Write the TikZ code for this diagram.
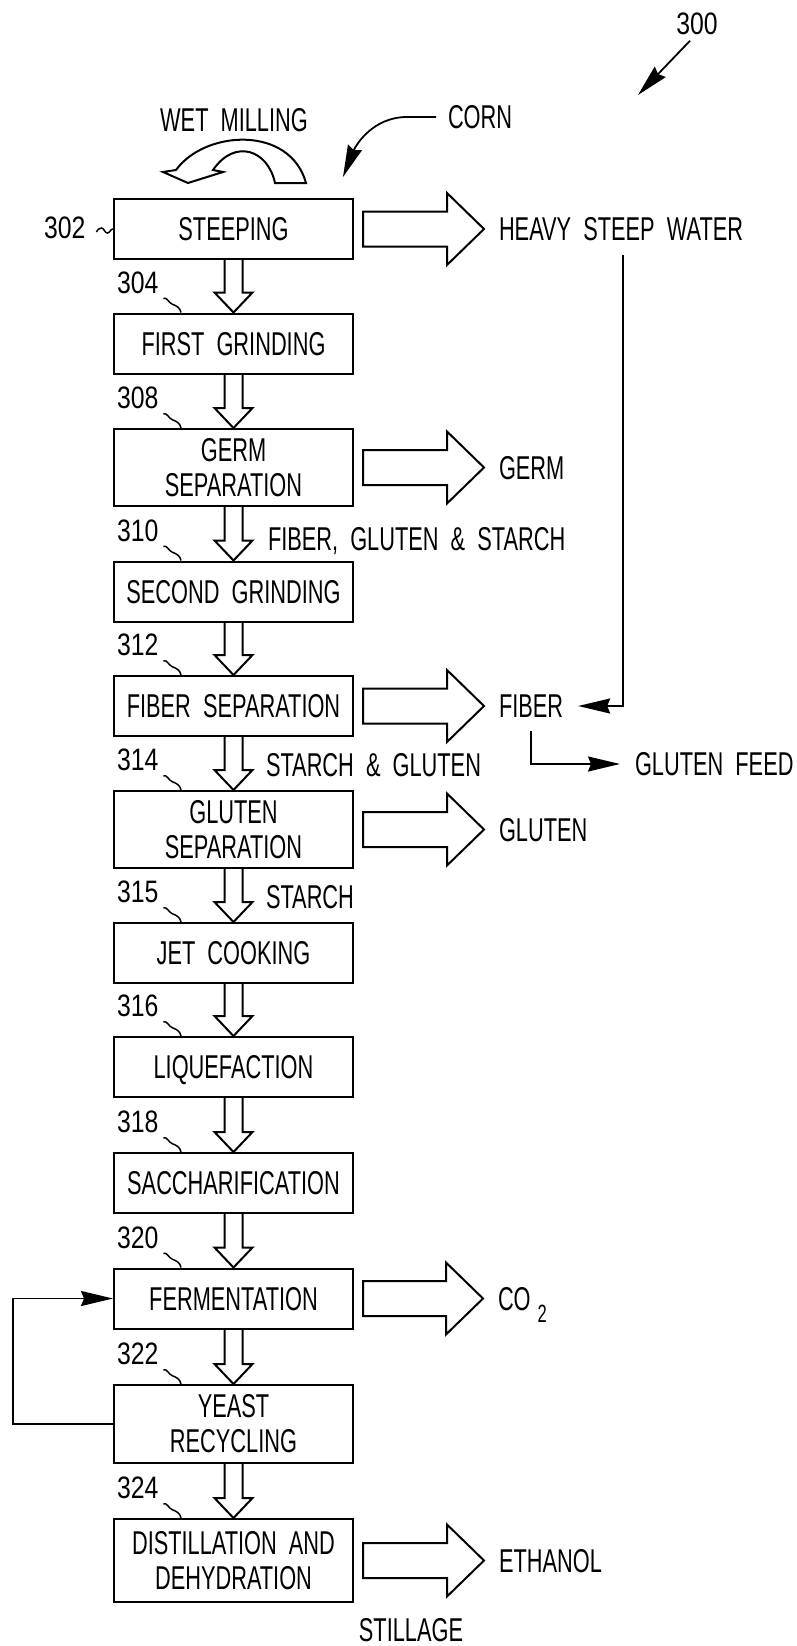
\documentclass[tikz,border=0pt]{standalone}
\usepackage{fontspec}
\setmainfont{Liberation Sans}[FakeStretch=0.66,WordSpace=2]
\newfontfamily\refnum{Liberation Sans}[FakeStretch=0.8]
\usetikzlibrary{calc,arrows.meta}

\begin{document}
\begin{tikzpicture}[x=1pt, y=-1pt, line width=2pt, font=\fontsize{33}{35}\selectfont]

      \useasboundingbox (0,0) rectangle (796,1646);
      \tikzset{boxbase/.style={draw, minimum width=239pt, inner sep=0pt, align=center},
               box/.style={boxbase, minimum height=60pt, text height=23.5pt, text depth=0pt},
               tall/.style={boxbase, minimum height=78pt},
               txt/.style={inner sep=0pt, text height=23.5pt, text depth=0pt},
               product/.style={txt, anchor=west},
               refno/.style={txt, anchor=west, font=\refnum\fontsize{31}{31}\selectfont},
               squig/.style={line width=1.5pt},
               thinarrow/.style={line width=1.8pt, -{Stealth[length=32pt,width=15pt,inset=3pt]}},
               blockdown/.style={to path={($(\tikztostart.south)+(-9pt,0)$) -- ($(\tikztotarget.north)+(-9pt,20pt)$)
                   -- ($(\tikztotarget.north)+(-19pt,20pt)$) -- (\tikztotarget.north) -- ($(\tikztotarget.north)+(19pt,20pt)$)
                   -- ($(\tikztotarget.north)+(9pt,20pt)$) -- ($(\tikztostart.south)+(9pt,0)$)}},
               blockright/.style={to path={($(\tikztostart.east)+(9pt,17.5pt)$) -- ($(\tikztostart.east -| \tikztotarget.west)+(-51pt,17.5pt)$)
                   -- ($(\tikztostart.east -| \tikztotarget.west)+(-51pt,36pt)$) -- ($(\tikztostart.east -| \tikztotarget.west)+(-14pt,0)$)
                   -- ($(\tikztostart.east -| \tikztotarget.west)+(-51pt,-36pt)$) -- ($(\tikztostart.east -| \tikztotarget.west)+(-51pt,-17.5pt)$)
                   -- ($(\tikztostart.east)+(9pt,-17.5pt)$) -- cycle}}}
%% Process steps
      	\node[box] (steep) at (233.5,229) {STEEPING};
      	\node[box] (grind1) at (233.5,343.5) {FIRST GRINDING};
      	\node[tall, minimum height=77pt] (germsep) at (233.5,467.5) {GERM\\SEPARATION};
      	\node[box] (grind2) at (233.5,591.5) {SECOND GRINDING};
      	\node[box] (fibersep) at (233.5,706) {FIBER SEPARATION};
      	\node[tall, minimum height=77pt] (glutensep) at (233.5,829.5) {GLUTEN\\SEPARATION};
      	\node[box] (jet) at (233.5,953) {JET COOKING};
      	\node[box] (liq) at (233.5,1067) {LIQUEFACTION};
      	\node[box] (sacc) at (233.5,1183) {SACCHARIFICATION};
      	\node[box] (ferm) at (233.5,1298.5) {FERMENTATION};
      	\node[tall] (yeast) at (233.5,1424) {YEAST\\RECYCLING};
      	\node[tall, minimum height=83pt] (distil) at (233.5,1560.5) {DISTILLATION AND\\DEHYDRATION};
%% Products and streams
      	\node[product] (heavy) at (498,229) {HEAVY STEEP WATER};
      	\node[product] (germ) at (498,467.5) {GERM};
      	\node[product] (fiber) at (498,706) {FIBER};
      	\node[product] (feed) at (634,764) {GLUTEN FEED};
      	\node[product] (gluten) at (498,829.5) {GLUTEN};
      	\node[product] (co2) at (497,1298.5) {CO\hspace{7pt}\raisebox{-12pt}{\fontsize{25}{25}\selectfont 2}};
      	\node[product] (ethanol) at (498,1560.5) {ETHANOL};
      	\node[txt] (stillage) at (411,1630) {STILLAGE};
      	\node[txt, anchor=west] (fgs) at (267,539) {FIBER, GLUTEN \& STARCH};
      	\node[txt, anchor=west] (sg) at (265,765) {STARCH \& GLUTEN};
      	\node[txt, anchor=west] (st) at (265,897) {STARCH};
      	\node[txt] (wet) at (234,120) {WET MILLING};
      	\node[txt, anchor=west] (corn) at (447,117) {CORN};
      	\node[refno, anchor=center] (fig) at (697,23) {300};
      	\coordinate (corntip) at (343,177);
      	\coordinate (figtip) at (638,95);
%% Reference numerals
      	\node[refno] (r302) at (43,227) {302};
      	\node[refno] (r304) at ($(grind1.north west)+(3pt,31pt)$) {304};
      	\node[refno] (r308) at ($(germsep.north west)+(3pt,31pt)$) {308};
      	\node[refno] (r310) at ($(grind2.north west)+(3pt,31pt)$) {310};
      	\node[refno] (r312) at ($(fibersep.north west)+(3pt,31pt)$) {312};
      	\node[refno] (r314) at ($(glutensep.north west)+(3pt,31pt)$) {314};
      	\node[refno] (r315) at ($(jet.north west)+(3pt,31pt)$) {315};
      	\node[refno] (r316) at ($(liq.north west)+(3pt,31pt)$) {316};
      	\node[refno] (r318) at ($(sacc.north west)+(3pt,31pt)$) {318};
      	\node[refno] (r320) at ($(ferm.north west)+(3pt,31pt)$) {320};
      	\node[refno] (r322) at ($(yeast.north west)+(3pt,31pt)$) {322};
      	\node[refno] (r324) at ($(distil.north west)+(3pt,31pt)$) {324};
%Leaders
		\draw[squig] ($(r302.east)+(10pt,-5pt)$) to[out=60,in=180] ++(5pt,4pt) to[out=0,in=180] ++(6pt,-5pt) to[out=0,in=180] (steep.west);
		\draw[squig] ($(r304.south east)+(4pt,-4pt)$) to[out=15,in=160] ++(9pt,-6pt) to[out=-20,in=100] ($(grind1.north west)+(68pt,0)$);
		\draw[squig] ($(r308.south east)+(4pt,-4pt)$) to[out=15,in=160] ++(9pt,-6pt) to[out=-20,in=100] ($(germsep.north west)+(68pt,0)$);
		\draw[squig] ($(r310.south east)+(4pt,-4pt)$) to[out=15,in=160] ++(9pt,-6pt) to[out=-20,in=100] ($(grind2.north west)+(68pt,0)$);
		\draw[squig] ($(r312.south east)+(4pt,-4pt)$) to[out=15,in=160] ++(9pt,-6pt) to[out=-20,in=100] ($(fibersep.north west)+(68pt,0)$);
		\draw[squig] ($(r314.south east)+(4pt,-4pt)$) to[out=15,in=160] ++(9pt,-6pt) to[out=-20,in=100] ($(glutensep.north west)+(68pt,0)$);
		\draw[squig] ($(r315.south east)+(4pt,-4pt)$) to[out=15,in=160] ++(9pt,-6pt) to[out=-20,in=100] ($(jet.north west)+(68pt,0)$);
		\draw[squig] ($(r316.south east)+(4pt,-4pt)$) to[out=15,in=160] ++(9pt,-6pt) to[out=-20,in=100] ($(liq.north west)+(68pt,0)$);
		\draw[squig] ($(r318.south east)+(4pt,-4pt)$) to[out=15,in=160] ++(9pt,-6pt) to[out=-20,in=100] ($(sacc.north west)+(68pt,0)$);
		\draw[squig] ($(r320.south east)+(4pt,-4pt)$) to[out=15,in=160] ++(9pt,-6pt) to[out=-20,in=100] ($(ferm.north west)+(68pt,0)$);
		\draw[squig] ($(r322.south east)+(4pt,-4pt)$) to[out=15,in=160] ++(9pt,-6pt) to[out=-20,in=100] ($(yeast.north west)+(68pt,0)$);
		\draw[squig] ($(r324.south east)+(4pt,-4pt)$) to[out=15,in=160] ++(9pt,-6pt) to[out=-20,in=100] ($(distil.north west)+(68pt,0)$);
%Main flow
		\draw[blockdown] (steep) to (grind1);
		\draw[blockdown] (grind1) to (germsep);
		\draw[blockdown] (germsep) to (grind2);
		\draw[blockdown] (grind2) to (fibersep);
		\draw[blockdown] (fibersep) to (glutensep);
		\draw[blockdown] (glutensep) to (jet);
		\draw[blockdown] (jet) to (liq);
		\draw[blockdown] (liq) to (sacc);
		\draw[blockdown] (sacc) to (ferm);
		\draw[blockdown] (ferm) to (yeast);
		\draw[blockdown] (yeast) to (distil);
%Side streams
		\draw[blockright] (steep) to (heavy);
		\draw[blockright] (germsep) to (germ);
		\draw[blockright] (fibersep) to (fiber);
		\draw[blockright] (glutensep) to (gluten);
		\draw[blockright] (ferm) to (co2);
		\draw[blockright] (distil) to (ethanol);
		\draw[thinarrow, shorten >=14pt] ($(heavy.south)+(2pt,-13pt)$) |- (fiber.east);
		\draw[thinarrow, shorten >=14pt] ($(fiber.south)+(0,-12pt)$) |- (feed.west);
		\draw[thinarrow] (yeast.west) -- ++(-100pt,0) |- (ferm.west);
		\draw[thinarrow, shorten <=11pt] (corn.west) -- ++(-40pt,0) to[out=180,in=68] (corntip);
		\draw[thinarrow] ($(fig.south)+(-7pt,-5pt)$) -- (figtip);
%Wet milling symbol
		\draw (306,183) -- (275,183) .. controls (268,150) and (235,138) .. (213,170) -- (223,172) -- (188,183)
		      -- (163,172) -- (176,170) .. controls (205,130) and (290,125) .. (306,183) -- cycle;

	\end{tikzpicture}
\end{document}
